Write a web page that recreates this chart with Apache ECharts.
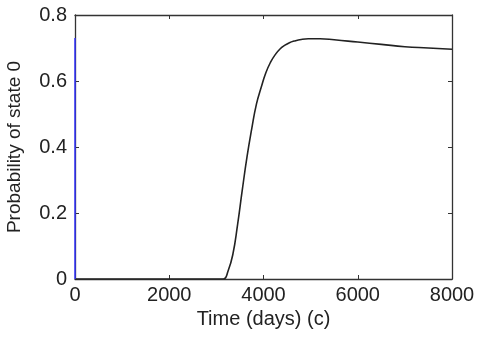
<!DOCTYPE html>
<html>
<head>
<meta charset="utf-8">
<script src="https://cdn.jsdelivr.net/npm/echarts@6/dist/echarts.min.js"></script>
<style>
  html, body { margin: 0; padding: 0; background: #fff; }
  #main { width: 480px; height: 337px; }
</style>
</head>
<body>
<div id="main"></div>
<script>
// time (days) and probability
const timeDays = [0, 3000, 3150, 3250, 3350, 3450, 3550, 3650, 3750, 3850, 3950, 4050, 4150, 4250, 4350, 4450, 4550, 4650, 4800, 4950, 5200, 5500, 6000, 6500, 7000, 7500, 8000];
const probState0 = [0, 0, 0, 0.025, 0.075, 0.165, 0.27, 0.37, 0.455, 0.53, 0.58, 0.625, 0.657, 0.68, 0.697, 0.708, 0.716, 0.721, 0.726, 0.728, 0.728, 0.725, 0.718, 0.711, 0.704, 0.7, 0.696];
// spike at t = 0 (blue)
const spikeTime = [0, 0];
const spikeProb = [0, 0.73];
const xTicks = [0, 2000, 4000, 6000, 8000];
const yTicks = [0, 0.2, 0.4, 0.6, 0.8];

const axisColor = '#333';
const textColor = '#222';
const font = 'Liberation Sans';

const chart = echarts.init(document.getElementById('main'));

const frameAxis = () => ({
  axisLine: { show: true, onZero: false, lineStyle: { color: axisColor, width: 1.3 } },
  axisTick: { show: true, inside: true, length: 4, lineStyle: { color: axisColor } },
  splitLine: { show: false }
});

chart.setOption({
  animation: false,
  grid: { left: 75, right: 28, top: 15, bottom: 58, outerBoundsMode: 'none' },
  xAxis: [
    Object.assign({
      type: 'value', min: xTicks[0], max: xTicks[xTicks.length - 1], interval: 2000,
      name: 'Time (days) (c)', nameLocation: 'middle', nameGap: 29,
      nameTextStyle: { fontFamily: font, fontSize: 20, color: textColor },
      axisLabel: { fontFamily: font, fontSize: 20, color: textColor, margin: 6,
        formatter: v => String(v) }
    }, frameAxis()),
    Object.assign({
      type: 'value', position: 'top', min: 0, max: 8000, interval: 2000,
      axisLabel: { show: false }
    }, frameAxis())
  ],
  yAxis: [
    Object.assign({
      type: 'value', min: yTicks[0], max: yTicks[yTicks.length - 1], interval: 0.2,
      name: 'Probability of state 0', nameLocation: 'middle', nameGap: 51,
      nameTextStyle: { fontFamily: font, fontSize: 19, color: textColor },
      axisLabel: { fontFamily: font, fontSize: 20, color: textColor, margin: 8,
        formatter: v => v === 0 ? '0' : v.toFixed(1) }
    }, frameAxis()),
    Object.assign({
      type: 'value', position: 'right', min: 0, max: 0.8, interval: 0.2,
      axisLabel: { show: false }
    }, frameAxis())
  ],
  series: [
    {
      type: 'line',
      data: timeDays.map((t, i) => [t, probState0[i]]),
      smooth: 0.5,
      showSymbol: false,
      lineStyle: { color: '#222', width: 1.6 }
    },
    {
      type: 'line',
      data: spikeTime.map((t, i) => [t, spikeProb[i]]),
      showSymbol: false,
      lineStyle: { color: '#3333ff', width: 1.5 }
    }
  ]
});
</script>
</body>
</html>
